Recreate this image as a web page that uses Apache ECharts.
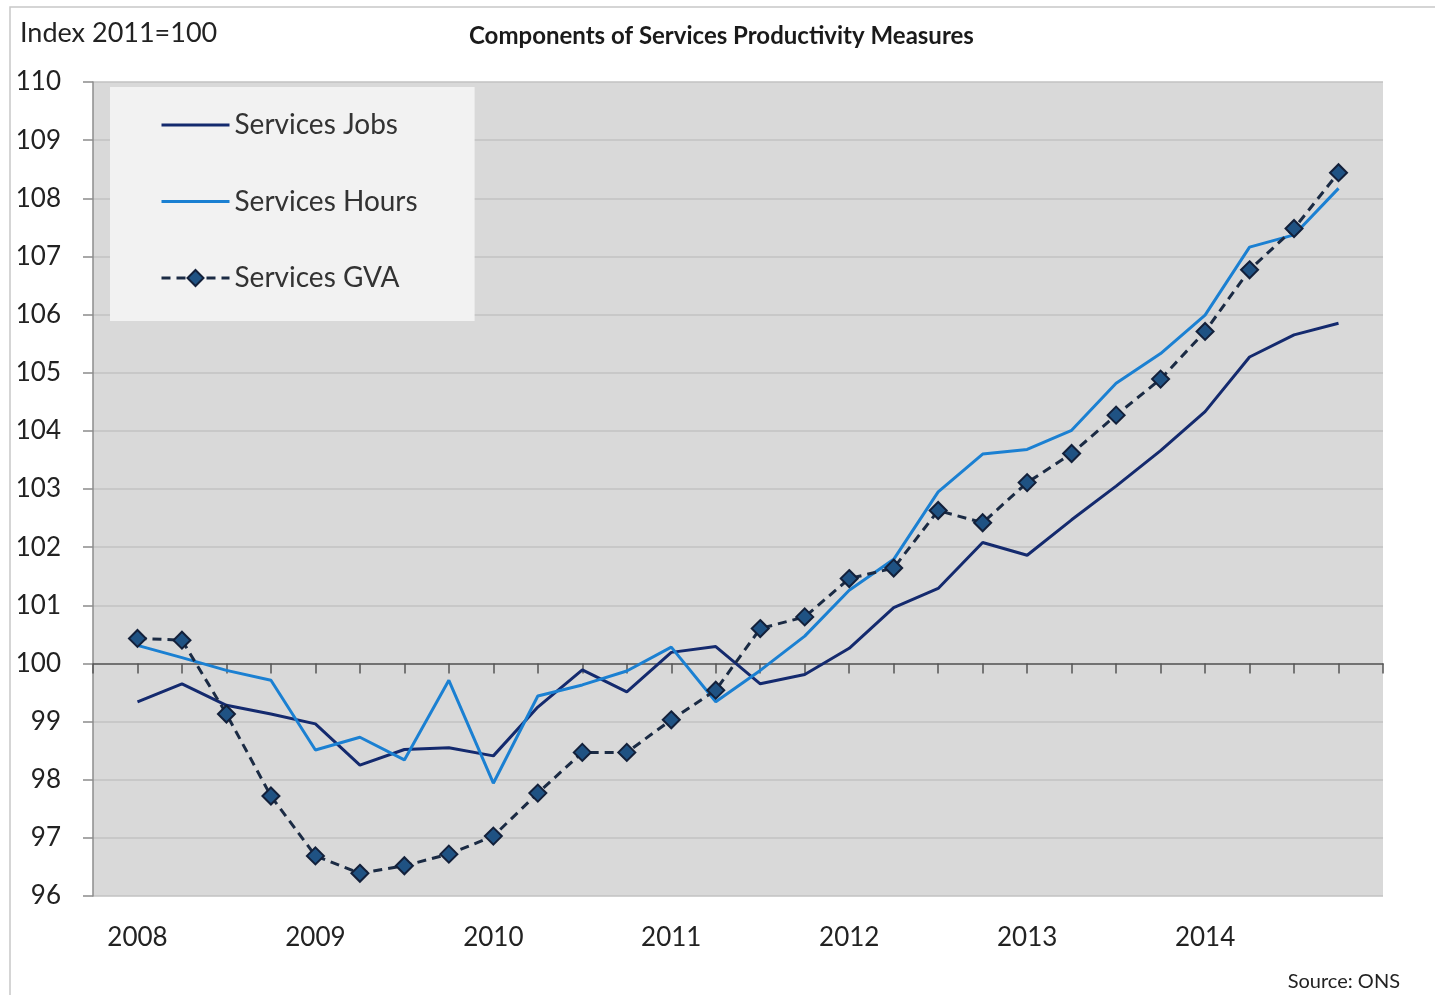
<!DOCTYPE html>
<html>
<head>
<meta charset="utf-8">
<title>Components of Services Productivity Measures</title>
<script src="https://cdn.jsdelivr.net/npm/echarts@6/dist/echarts.min.js"></script>
<style>
html,body{margin:0;padding:0;background:#fff;}
#chart{width:1435px;height:995px;}
</style>
</head>
<body>
<div id="chart"></div>
<script>
// quarterly, 2008 Q1 .. 2014 Q4
var years = ['2008','2009','2010','2011','2012','2013','2014'];
var yTicks = [96,97,98,99,100,101,102,103,104,105,106,107,108,109,110];

var jobs = [99.34,99.65,99.28,99.13,98.96,98.25,98.52,98.55,98.41,99.25,99.89,99.51,
            100.19,100.29,99.65,99.81,100.26,100.96,101.29,102.08,101.86,102.47,103.05,103.66,
            104.33,105.27,105.65,105.85];
var hours = [100.31,100.10,99.88,99.71,98.51,98.73,98.34,99.71,97.94,99.44,99.63,99.87,
             100.28,99.34,99.88,100.47,101.26,101.79,102.95,103.60,103.68,104.01,104.82,105.33,
             105.99,107.16,107.37,108.17];
var gva = [100.43,100.40,99.13,97.72,96.69,96.39,96.52,96.72,97.03,97.77,98.47,98.47,
           99.03,99.54,100.60,100.80,101.46,101.64,102.63,102.42,103.11,103.61,104.27,104.89,
           105.71,106.77,107.48,108.44];

var FONT = 'Lato, "DejaVu Sans", sans-serif';
var gridTop = 82, gridBottom = 99, chartH = 995;
var plotH = chartH - gridTop - gridBottom;
var yMin = yTicks[0], yMax = yTicks[yTicks.length - 1];
// where the 100 line sits, measured up from the bottom of the plot
var offset100 = -(100 - yMin) / (yMax - yMin) * plotH;

function pairs(arr){
    var out = [];
    for (var i = 0; i < arr.length; i++) { out.push([i, arr[i]]); }
    return out;
}

var myChart = echarts.init(document.getElementById('chart'));
var option = {
    backgroundColor: '#ffffff',
    animation: false,
    textStyle: { fontFamily: FONT },
    title: {
        text: 'Components of Services Productivity Measures',
        left: 464, top: 19,
        textStyle: { fontFamily: FONT, fontSize: 24, fontWeight: 'bold', color: '#1a1a1a' }
    },
    graphic: [
        { type: 'rect', shape: { x: 10, y: 7, width: 1460, height: 1020 },
          style: { fill: 'none', stroke: '#c8c8c8', lineWidth: 1.5 }, silent: true },
        { type: 'text', left: 20, top: 20,
          style: { text: 'Index 2011=100', font: '27px ' + FONT, fill: '#222' } },
        { type: 'text', right: 35, top: 972,
          style: { text: 'Source: ONS', font: '20px ' + FONT, fill: '#222' } }
    ],
    legend: {
        orient: 'vertical',
        left: 110, top: 87,
        backgroundColor: '#f2f2f2',
        padding: [24, 57, 29, 50],
        itemWidth: 68, itemHeight: 20,
        itemGap: 48.5,
        lineStyle: { width: 3 },
        textStyle: { fontFamily: FONT, fontSize: 28, color: '#333' },
        data: [
            { name: 'Services Jobs', itemStyle: { color: 'transparent', borderWidth: 0, opacity: 0 } },
            { name: 'Services Hours', itemStyle: { color: 'transparent', borderWidth: 0, opacity: 0 } },
            { name: 'Services GVA' }
        ]
    },
    grid: {
        left: 93, right: 52, top: gridTop, bottom: gridBottom,
        show: true, backgroundColor: '#d9d9d9', borderWidth: 0
    },
    xAxis: [
        {
            type: 'value', min: -1, max: 28, interval: 1,
            position: 'bottom', offset: 0,
            axisLine: { show: false },
            axisTick: { show: false },
            splitLine: { show: false },
            axisLabel: {
                margin: 29, fontSize: 26, color: '#222', fontFamily: FONT,
                formatter: function (v) {
                    if (v >= 0 && v % 4 === 0) { return years[v / 4] || ''; }
                    return '';
                }
            }
        },
        {
            type: 'value', min: -1, max: 28, interval: 1,
            position: 'bottom', offset: offset100,
            axisLine: { show: true, lineStyle: { color: '#555', width: 1.5 } },
            axisTick: { show: true, length: 10, lineStyle: { color: '#555', width: 1.5 } },
            splitLine: { show: false },
            axisLabel: { show: false }
        }
    ],
    yAxis: {
        type: 'value', min: yMin, max: yMax, interval: 1,
        axisLine: { show: true, onZero: false, lineStyle: { color: '#8c8c8c', width: 1.5 } },
        axisTick: { show: true, length: 10, lineStyle: { color: '#8c8c8c', width: 1.5 } },
        splitLine: { show: true, lineStyle: { color: '#c2c2c2', width: 1.5 } },
        axisLabel: { margin: 32, fontSize: 26, color: '#222', fontFamily: FONT }
    },
    series: [
        {
            name: 'Services Jobs', type: 'line', xAxisIndex: 0,
            data: pairs(jobs), symbol: 'none', z: 3,
            lineStyle: { color: '#142a6e', width: 3 },
            itemStyle: { color: '#142a6e' }
        },
        {
            name: 'Services Hours', type: 'line', xAxisIndex: 0,
            data: pairs(hours), symbol: 'none', z: 4,
            lineStyle: { color: '#1b80d2', width: 3 },
            itemStyle: { color: '#1b80d2' }
        },
        {
            name: 'Services GVA', type: 'line', xAxisIndex: 0,
            data: pairs(gva), symbol: 'diamond', symbolSize: 17, z: 5,
            lineStyle: { color: '#1b2b44', width: 3, type: [9, 6] },
            itemStyle: { color: '#1f5283', borderColor: '#13203a', borderWidth: 2 }
        }
    ]
};
myChart.setOption(option);
</script>
</body>
</html>
